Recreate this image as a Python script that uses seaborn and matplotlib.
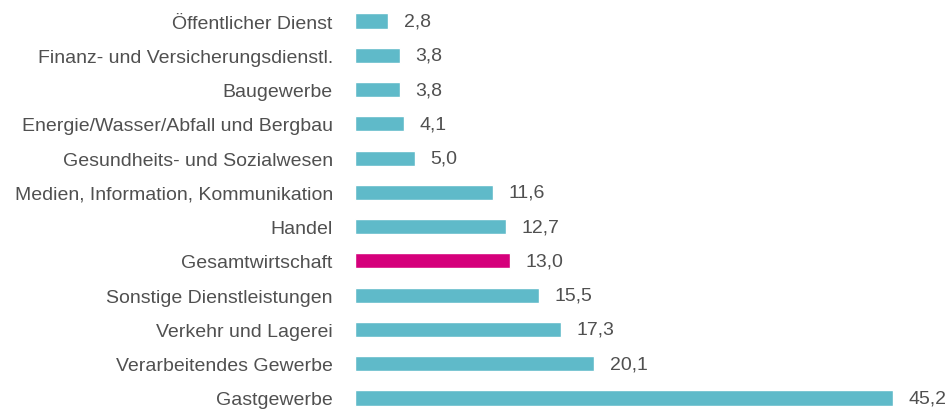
import matplotlib
matplotlib.use("Agg")
import matplotlib.pyplot as plt
from matplotlib import font_manager
import seaborn as sns
import pandas as pd

# Daten
branchen = [
    "Öffentlicher Dienst",
    "Finanz- und Versicherungsdienstl.",
    "Baugewerbe",
    "Energie/Wasser/Abfall und Bergbau",
    "Gesundheits- und Sozialwesen",
    "Medien, Information, Kommunikation",
    "Handel",
    "Gesamtwirtschaft",
    "Sonstige Dienstleistungen",
    "Verkehr und Lagerei",
    "Verarbeitendes Gewerbe",
    "Gastgewerbe",
]
werte = [2.8, 3.8, 3.8, 4.1, 5.0, 11.6, 12.7, 13.0, 15.5, 17.3, 20.1, 45.2]
hervorgehoben = "Gesamtwirtschaft"

teal = "#5fbac9"
magenta = "#d5007b"
grau = "#505050"

df = pd.DataFrame({"branche": branchen, "wert": werte})
farben = {b: (magenta if b == hervorgehoben else teal) for b in branchen}

sns.set_theme(style="white")
namen = {f.name for f in font_manager.fontManager.ttflist}
schrift = "Liberation Sans Narrow" if "Liberation Sans Narrow" in namen else "Liberation Sans"
groesse = 17 if schrift == "Liberation Sans Narrow" else 14
plt.rcParams["font.family"] = [schrift, "DejaVu Sans"]

fig = plt.figure(figsize=(9.53, 4.10), dpi=100)
ax = fig.add_axes([355 / 953, 0, (893 - 355) / 953, 1])

sns.barplot(data=df, x="wert", y="branche", hue="branche", palette=farben,
            order=branchen, hue_order=branchen, orient="h", width=0.44,
            legend=False, ax=ax, saturation=1)

ax.set_xlim(0, 45.2)
ax.set_ylim(11 + 11 / 34.27, -22 / 34.27)
ax.set_xlabel("")
ax.set_ylabel("")
ax.set_xticks([])
ax.tick_params(axis="y", length=0, pad=16, labelsize=groesse, labelcolor=grau)
for s in ax.spines.values():
    s.set_visible(False)

for cont in ax.containers:
    ax.bar_label(cont, labels=[f"{v:.1f}".replace(".", ",") for v in cont.datavalues],
                 padding=11, fontsize=groesse, color=grau, clip_on=False)

fig.savefig("out.png", dpi=100)
